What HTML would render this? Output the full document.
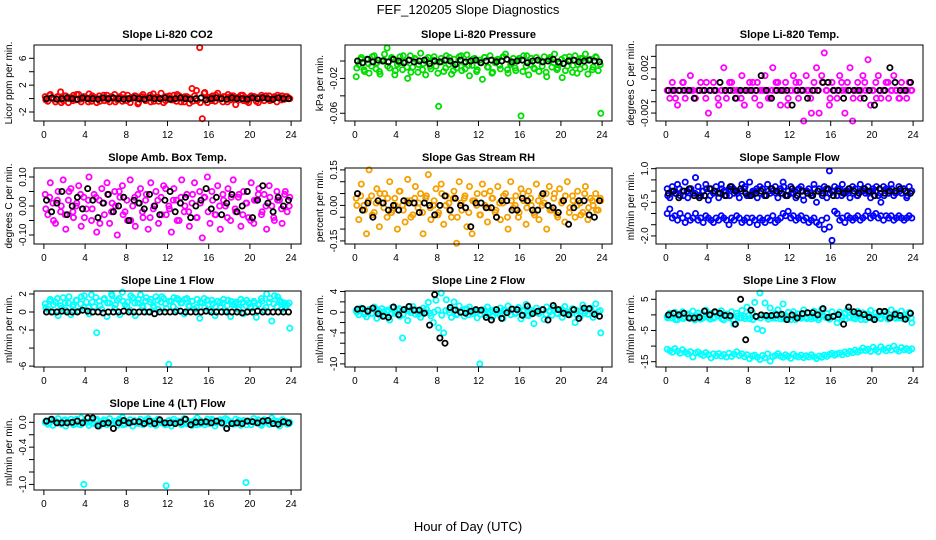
<!DOCTYPE html>
<html><head><meta charset="utf-8"><style>
html,body{margin:0;padding:0;background:#fff;}
svg{display:block;font-family:"Liberation Sans",sans-serif;}
</style></head><body>
<svg id="chart" width="936" height="540" viewBox="0 0 936 540">
<text x="468" y="14" text-anchor="middle" font-size="13">FEF_120205  Slope Diagnostics</text>
<text x="468" y="531" text-anchor="middle" font-size="13">Hour of Day (UTC)</text>
</svg>
<script>
// ---- data ----
const xTicks = [0,4,8,12,16,20,24];
const co2Red = [0.3,-0.4,0.6,0.1,-0.5,0.2,1.0,-0.3,0.4,-0.6,0.2,0.5,-0.2,0.6,-0.5,0.3,0.1,0.7,-0.4,0.2,-0.6,0.4,0.1,-0.3,0.5,-0.5,0.2,0.6,-0.2,0.3,-0.4,0.1,0.5,-0.6,0.2,0.4,-0.8,0.3,0.6,-0.3,0.1,-0.5,0.7,0.2,-0.4,0.8,-0.6,0.3,0.1,-0.2,0.5,-0.4,0.4,0.2,-0.5,0.3,-0.7,1.5,0.4,-0.3,7.6,-3.0,0.9,-0.6,0.2,0.4,-0.4,0.8,0.1,-0.5,0.3,0.6,-0.2,0.4,-0.9,0.2,0.5,-0.3,0.1,-0.6,0.4,0.3,-0.4,0.2,0.5,-0.3,0.1,0.4,-0.2,0.3,-0.5,0.2,0.4,-0.1,0.3,0.0];
const co2Red2 = [-0.2,0.5,-0.1,0.3,-0.6,0.4,0.0,-0.3,0.6,-0.1,0.2,-0.5,0.4,0.1,-0.4,0.5,-0.2,0.3,-0.5,0.2,0.6,-0.3,0.0,0.4,-0.6,0.3,-0.1,0.5,-0.4,0.2,0.0,-0.3,0.4,-0.2,0.6,-0.5,0.3,0.1,-0.4,1.2,-0.6,0.8,0.2,-0.3,0.5,-0.1,0.3,-0.5,0.4,0.0,-0.2,0.5,-0.4,0.1,0.3,-0.6,0.2,0.4,-0.3,0.1,0.5,-0.2,0.3,0.0];
const co2Black = [0,0.1,-0.1,0,0.1,0,-0.1,0.1,0,0,-0.1,0.1,0,0.1,0,-0.1,0,0.1,0,-0.1,0.1,0,0,0.1,-0.1,0,0.1,0,-0.1,0,0.1,-0.2,0,0.1,0,-0.1,0.1,0,0,-0.1,0.1,0,0.1,0,-0.1,0.1,0,0];
const presGreen = [-0.018,-0.004,0.004,-0.010,0.002,-0.014,-0.006,0.006,-0.002,-0.012,0.000,0.008,0.015,-0.008,0.003,-0.016,-0.004,0.005,-0.010,-0.001,-0.020,0.006,-0.007,0.002,-0.013,0.009,-0.003,-0.016,0.004,-0.009,0.001,-0.006,-0.052,0.003,-0.012,0.006,-0.004,-0.015,0.002,-0.008,0.005,-0.011,-0.002,0.007,-0.017,-0.005,0.003,-0.010,0.001,-0.021,0.004,-0.007,0.006,-0.013,-0.002,0.002,-0.009,0.005,0.008,-0.014,-0.004,0.003,-0.011,0.001,-0.063,0.006,-0.006,-0.016,0.003,-0.008,0.004,-0.012,-0.001,0.005,-0.018,0.002,-0.007,0.008,-0.010,-0.003,-0.019,0.004,-0.006,0.001,-0.013,0.006,-0.004,-0.009,0.003,0.008,-0.015,0.002,-0.007,0.005,-0.011,-0.060];
const presGreen2 = [-0.008,0.002,-0.012,-0.003,0.005,-0.009,-0.015,0.001,-0.006,0.004,-0.011,-0.002,0.006,-0.007,-0.013,0.003,-0.004,-0.010,0.002,-0.006,0.005,-0.014,-0.001,-0.008,0.004,-0.011,-0.003,0.006,-0.009,-0.005,0.002,-0.012,-0.002,0.004,-0.007,-0.014,0.001,-0.005,0.005,-0.010,-0.002,-0.008,0.003,-0.012,0.006,-0.004,-0.009,0.001,-0.006,-0.013,0.004,-0.002,-0.008,0.002,-0.011,0.005,-0.005,-0.014,0.003,-0.007,0.001,-0.010,0.004,-0.004];
const presBlack = [0.000,-0.002,0.002,-0.001,0.001,0.000,-0.001,0.002,0.000,-0.002,0.001,-0.001,0.000,0.001,-0.003,0.000,-0.001,0.001,0.000,-0.004,0.001,-0.001,0.000,0.001,-0.002,0.000,0.001,-0.001,0.000,0.002,-0.001,0.000,0.001,-0.002,0.000,0.001,-0.001,0.000,0.002,-0.001,-0.003,0.000,0.001,-0.001,0.000,0.001,0.000,-0.001];
const tempMag = [0,-0.0007,0.0007,0,-0.0013,0,0.0007,-0.0007,0,0.0013,0,-0.0007,0,0.0007,0,-0.0007,-0.0020,0,0.0007,0,-0.0013,0,0.0020,-0.0007,0,0.0007,0,-0.0007,0,0.0013,-0.0013,0,0.0007,0,-0.0007,0.0007,-0.0013,0,0.0013,0,-0.0007,0.0020,0,0.0007,-0.0013,0,0.0007,-0.0007,0,0.0013,0.0007,-0.0007,0,-0.0027,0.0013,0,-0.0020,0.0007,0.0020,-0.0020,0.0013,0.0033,0,-0.0013,0.0007,0,-0.0007,0.0013,0,-0.0020,0.0007,0.0020,-0.0027,0,0.0007,-0.0007,0.0013,0,0.0027,-0.0013,0,0.0007,0.0013,-0.0007,0,0.0007,-0.0007,0,0.0013,0,-0.0007,0.0007,0,-0.0007,0.0007,0];
const tempMag2 = [0,0,-0.0007,0,0.0007,0,0,-0.0007,0,0,0.0007,0,0,-0.0007,0,0,0.0007,0,0,-0.0007,0,0,0.0007,0,0,0,-0.0007,0,0.0007,0,0,-0.0013,0,0,0.0007,0,0,-0.0007,0,0,0.0007,0,-0.0007,0,0,0.0007,0,0,-0.0007,0,0,0.0007,0,0,-0.0007,0,0,0.0007,0,0,-0.0007,0,0,0];
const tempBlack = [0,0,0,0,0,-0.0007,0,0,0,0,0.0007,0,0,-0.0007,0,0,0,0,0.0013,0,-0.0007,0,0,0,-0.0013,0,0,-0.0007,0,0,0.0007,0.0007,0,0,-0.0007,0,0,0,-0.0007,0,-0.0013,0,0,0.0020,0.0007,0,0,0.0007];
const ambMag = [0.04,-0.03,0.08,0.01,-0.06,0.05,-0.02,0.09,-0.08,0.02,0.06,-0.04,0.00,0.07,-0.07,0.03,-0.01,0.10,-0.05,0.04,-0.09,0.02,0.06,-0.03,0.08,-0.06,0.01,0.05,-0.10,0.03,0.07,-0.02,-0.05,0.09,0.00,-0.07,0.04,0.06,-0.04,0.02,-0.08,0.08,-0.01,0.05,-0.06,0.03,0.07,-0.03,0.00,-0.09,0.06,0.02,-0.05,0.09,-0.02,0.04,-0.07,0.01,0.08,-0.04,0.05,-0.11,0.03,0.10,-0.06,0.02,-0.03,0.07,-0.08,0.04,0.00,0.06,-0.05,0.09,-0.02,0.03,-0.07,0.05,0.01,-0.04,0.08,-0.06,0.02,0.06,-0.03,0.04,-0.08,0.07,0.00,-0.05,0.05,0.02,-0.06,0.04,-0.02,0.03];
const ambMag2 = [-0.01,0.03,-0.05,0.02,0.00,-0.03,0.05,-0.02,0.01,0.04,-0.04,0.02,-0.01,0.03,-0.06,0.01,0.04,-0.02,0.00,0.05,-0.03,0.02,-0.05,0.03,0.01,-0.02,0.04,-0.04,0.00,0.02,-0.03,0.06,-0.01,0.02,-0.05,0.03,0.00,-0.02,0.04,-0.04,0.01,0.03,-0.02,0.05,-0.03,0.00,0.02,-0.04,0.03,-0.01,0.04,-0.03,0.01,-0.05,0.02,0.04,-0.02,0.00,0.03,-0.04,0.02,-0.01,0.05,0.00];
const ambBlack = [0.02,-0.02,0.01,0.05,-0.03,0.00,0.03,-0.01,0.06,0.02,-0.04,0.01,0.04,-0.02,0.00,0.03,-0.05,0.02,0.01,-0.01,0.04,0.00,-0.03,0.02,0.05,-0.02,0.01,0.03,-0.04,0.00,0.02,0.06,-0.01,0.03,-0.03,0.01,0.04,-0.02,0.00,0.05,-0.04,0.02,0.07,0.01,-0.02,0.03,0.00,0.02];
const rhOrange = [0.03,-0.06,0.09,0.00,-0.12,0.15,0.04,-0.03,0.07,-0.09,0.01,0.05,-0.05,0.10,-0.02,0.03,-0.10,0.06,0.00,-0.07,0.11,0.02,-0.04,0.08,-0.01,0.05,-0.12,0.03,0.13,-0.06,0.00,0.07,-0.03,0.09,-0.08,0.04,0.01,-0.05,0.06,-0.16,0.10,-0.02,0.03,-0.09,0.08,-0.12,0.02,0.05,-0.04,0.09,0.00,-0.07,0.06,0.03,-0.03,0.08,-0.06,0.01,0.05,-0.10,0.10,-0.01,0.04,-0.05,0.07,0.02,-0.08,0.06,0.00,-0.03,0.09,-0.06,0.04,0.01,-0.10,0.08,-0.02,0.05,-0.04,0.07,0.02,-0.07,0.10,-0.01,0.04,-0.05,0.06,0.01,-0.03,0.08,-0.06,0.03,0.00,0.05,-0.02,0.02];
const rhOrange2 = [0.00,0.04,-0.02,0.02,-0.04,0.01,0.05,-0.01,0.03,-0.03,0.00,0.06,-0.02,0.02,-0.05,0.03,0.01,-0.03,0.04,-0.01,0.02,-0.04,0.05,0.00,-0.02,0.03,-0.05,0.01,0.04,-0.03,0.02,0.00,-0.04,0.05,-0.01,0.03,-0.02,0.01,0.04,-0.05,0.02,0.00,-0.03,0.05,-0.01,0.03,-0.04,0.02,0.00,0.05,-0.02,0.03,-0.05,0.01,0.04,-0.03,0.02,0.00,-0.04,0.05,-0.01,0.02,-0.02,0.03];
const rhBlack = [0.05,-0.02,0.01,-0.05,0.02,0.01,-0.02,0.00,-0.02,0.02,0.01,0.01,-0.03,0.01,0.00,-0.04,0.00,0.04,-0.02,0.03,0.00,-0.01,-0.09,0.01,0.01,-0.01,-0.01,-0.05,0.02,0.02,-0.02,-0.02,0.03,0.02,-0.02,-0.02,0.05,0.00,-0.01,-0.03,0.02,-0.08,-0.01,0.02,0.02,-0.04,-0.05,0.02];
const flowUpper = [0.1,-0.3,0.2,-0.1,0.3,-0.2,0.0,0.4,-0.3,0.1,-0.1,0.6,0.2,-0.2,0.0,0.3,-0.4,0.1,-0.1,0.2,-0.3,0.3,0.0,-0.2,0.1,0.2,-0.1,0.0,-0.3,0.3,0.1,-0.2,0.4,-0.1,0.0,-0.3,0.2,0.1,-0.2,0.3,-0.1,0.0,0.2,-0.3,0.1,0.4,-0.2,0.0,0.2,-0.1,-0.3,0.1,0.2,-0.4,0.0,0.1,-0.2,0.3,-0.5,0.1,-0.1,0.2,-0.3,0.9,0.0,0.2,-0.2,0.1,0.3,-0.1,0.0,-0.3,0.2,0.1,-0.2,0.3,0.0,-0.1,0.2,-0.3,0.1,0.0,-0.2,-0.5,0.2,0.1,-0.1,0.3,-0.2,0.0,0.2,-0.1,0.1,-0.3,0.2,0.0];
const flowUpper2 = [-0.2,0.0,-0.1,0.1,-0.2,0.0,0.1,-0.1,-0.2,0.0,0.1,-0.2,0.0,-0.1,0.1,0.0,-0.2,0.1,-0.1,0.0,0.2,-0.2,0.0,0.1,-0.1,-0.2,0.0,0.1,-0.1,0.0,0.2,-0.2,-0.1,0.0,0.1,-0.2,0.0,-0.1,0.1,0.0,-0.2,0.1,-0.1,0.0,0.1,-0.2,0.0,0.1,-0.1,-0.2,0.0,0.1,-0.1,0.0,0.2,-0.1,-0.2,0.0,0.1,-0.1,0.0,0.1,-0.2,0.0];
const flowLower = [-1.0,-0.8,-1.2,-1.1,-1.3,-1.0,-1.2,-1.4,-1.1,-1.3,-1.2,-1.0,-1.3,-1.2,-1.4,-1.1,-1.2,-1.3,-1.4,-1.2,-1.3,-1.1,-1.2,-1.3,-1.5,-1.2,-1.3,-1.1,-1.2,-1.4,-1.3,-1.2,-1.4,-1.2,-1.3,-1.5,-1.2,-1.3,-1.4,-1.2,-1.3,-1.1,-1.4,-1.3,-1.2,-1.0,-1.1,-0.9,-1.2,-1.1,-1.3,-1.2,-1.1,-1.3,-1.2,-1.4,-1.3,-1.2,-1.4,-1.5,-1.3,-1.7,-1.2,-1.6,-2.2,-0.9,-1.0,-1.3,-1.2,-1.4,-1.1,-1.2,-1.3,-1.2,-1.1,-1.3,-1.2,-1.1,-0.9,-1.2,-1.1,-1.0,-1.2,-1.1,-1.3,-1.1,-1.2,-1.1,-1.3,-1.2,-1.1,-1.2,-1.3,-1.2,-1.1,-1.2];
const flowBlack = [-0.1,0.0,-0.3,0.0,0.1,-0.2,-0.3,-0.2,0.1,0.0,-0.1,-0.2,0.2,0.0,0.1,-0.1,-0.2,-0.1,0.0,-0.2,0.1,0.0,-0.1,-0.2,0.1,-0.2,0.0,-0.1,-0.2,0.0,-0.1,0.1,-0.2,0.0,-0.1,0.1,0.0,-0.1,0.1,0.0,-0.2,0.1,-0.1,0.0,0.0,0.1,0.0,-0.1];
const line1Cyan = [0.9,0.3,1.4,0.0,1.1,-0.4,0.7,1.6,0.2,1.0,-0.3,0.8,1.3,0.1,1.7,0.5,1.1,-0.2,1.9,0.6,-2.3,1.2,0.3,1.5,-0.5,1.0,1.8,0.4,1.3,-0.3,2.2,0.8,1.1,0.2,1.6,-0.4,1.0,1.9,0.5,1.2,0.0,1.4,0.7,1.7,0.3,1.1,1.5,0.4,-5.8,1.2,1.6,0.2,1.3,1.0,-0.2,1.5,0.6,1.2,0.3,1.4,-0.7,1.0,0.5,1.3,0.2,0.9,-0.4,1.2,0.6,1.0,0.1,1.3,-0.5,0.8,1.1,0.3,1.4,-0.2,0.7,1.0,0.4,1.2,-0.6,0.9,1.5,0.2,2.0,1.1,-1.0,1.8,0.6,1.3,0.3,1.0,0.8,-1.8];
const line1Cyan2 = [0.5,1.2,0.8,1.5,0.4,1.0,1.7,0.6,1.3,0.9,1.8,0.5,1.1,1.6,0.7,1.4,1.0,2.0,0.8,1.5,1.2,0.6,1.8,1.0,1.4,0.7,1.6,1.1,0.5,1.3,1.7,0.9,1.2,0.6,1.5,1.0,1.4,0.7,1.2,0.5,1.1,1.5,0.8,1.3,0.6,1.0,1.4,0.7,1.2,0.9,0.5,1.1,1.3,0.6,1.0,0.8,1.2,0.5,1.5,0.9,1.7,1.1,0.6,1.0];
const line1Black = [0,0,0,0.1,0,0,0,0.2,0.1,0,0,-0.1,0,0,0,0.1,0,0,0,0,0,-0.2,0,0,0,0,0.1,0,0,0,0,0.1,0,0,0,0,0,0,-0.1,0,0,0.1,0,0,0,0,0,0];
const line2Cyan = [0.3,-0.5,0.8,0.0,-0.9,0.5,-0.3,1.0,-1.2,0.2,0.7,-0.6,0.1,-1.5,0.9,-0.2,0.4,-0.8,-5.0,0.6,-1.6,0.3,1.1,-0.4,0.2,-1.0,0.8,0.0,1.9,-0.7,-2.0,2.3,-3.0,3.7,-4.0,2.4,0.5,-1.0,2.0,-0.5,1.2,0.0,-0.8,0.6,1.0,-0.3,0.3,-1.1,-10.0,0.4,-0.6,1.0,0.0,-0.9,0.5,-0.2,0.8,-1.2,0.3,1.2,-0.5,0.6,-0.1,0.9,-1.3,0.4,1.5,-0.7,0.0,-2.2,0.8,-0.3,0.5,-1.4,1.0,0.2,-0.6,0.9,-0.2,0.4,-1.0,1.1,0.0,-0.5,0.7,-2.0,0.3,-0.8,1.4,0.2,-0.4,0.8,-1.0,1.6,0.1,-4.0];
const line2Cyan2 = [0.0,0.5,-0.4,0.2,-0.2,0.6,-0.6,0.1,0.4,-0.3,0.0,0.7,-0.5,0.3,-0.1,0.5,-0.4,0.2,0.6,-0.2,0.0,0.4,-0.6,0.3,-0.1,0.5,-0.3,0.1,0.6,-0.5,0.2,0.0,-0.4,0.5,-0.2,0.3,0.0,-0.5,0.4,-0.1,0.6,-0.3,0.1,0.2,-0.6,0.4,0.0,-0.2,0.5,-0.4,0.1,0.3,-0.3,0.6,-0.1,0.0,0.4,-0.5,0.2,-0.2,0.5,0.0,-0.3,0.3];
const line2Black = [0.6,0.7,0.2,0.8,-0.3,-0.8,-1.0,1.0,-0.5,0.5,1.1,0.4,0.4,-0.2,-2.5,3.4,-5.0,-6.0,0.9,0.4,0.0,-0.2,0.2,0.5,0.4,-1.0,-1.5,0.5,-1.2,-0.1,0.6,0.5,-0.6,1.2,-0.3,0.2,0.5,-1.5,1.3,0.5,-0.2,-0.5,0.5,-1.2,0.8,0.7,-0.4,-0.8];
const line3Upper = [-0.5,0.5,-1.0,0.8,-1.5,0.2,1.0,-0.8,0.3,-1.2,1.2,-0.3,0.6,-1.4,0.0,1.5,-0.9,0.4,-1.1,0.9,-0.4,1.3,-1.6,0.2,-0.7,1.0,-3.0,0.5,-1.0,1.4,-0.5,2.5,-1.2,0.7,4.0,-4.5,7.0,-5.0,3.8,-0.6,2.2,-1.0,0.5,1.6,-1.3,3.5,-0.2,0.8,-1.5,1.0,-0.4,0.3,-1.1,1.6,-0.7,0.6,-1.3,1.2,0.0,-0.9,1.8,-0.5,0.4,-1.4,1.0,-0.2,-2.5,0.9,-1.0,0.5,1.5,-0.8,0.2,-1.3,1.1,-0.4,0.7,-1.5,0.3,1.4,-0.9,0.6,-0.2,-1.2,1.0,0.1,-0.8,1.6,-0.3,0.5,-1.0,1.2,0.0,-0.6,0.8,-2.5];
const line3Upper2 = [-1.0,-0.2,-1.5,-0.6,-1.2,0.0,-0.9,-1.6,-0.4,-1.1,-0.3,-1.4,-0.8,-0.1,-1.3,-0.5,-1.0,-1.7,-0.4,-0.9,-1.2,-0.2,-1.5,-0.7,-1.0,-0.3,-1.4,-0.6,-1.1,-0.2,-1.3,-0.8,-0.4,-1.5,-0.9,-0.1,-1.2,-0.6,-1.0,-1.6,-0.3,-0.9,-1.3,-0.5,-1.1,-0.2,-1.4,-0.7,-1.0,-0.4,-1.5,-0.8,-0.2,-1.2,-0.6,-1.0,-0.3,-1.4,-0.7,-1.1,-0.4,-1.3,-0.8,-1.0];
const line3Lower = [-11.0,-11.5,-12.0,-10.8,-11.6,-12.3,-11.2,-12.0,-12.5,-11.8,-13.5,-12.2,-11.9,-12.6,-13.0,-12.1,-12.8,-13.8,-12.5,-13.1,-12.4,-13.2,-12.7,-13.5,-12.3,-13.3,-12.6,-11.8,-13.0,-12.5,-13.4,-12.8,-14.0,-13.2,-12.9,-13.6,-14.3,-13.0,-13.7,-12.5,-14.8,-13.4,-13.0,-12.4,-13.2,-13.6,-12.8,-13.3,-13.9,-12.6,-13.2,-13.5,-12.9,-13.7,-13.1,-13.5,-12.8,-13.4,-14.0,-13.2,-13.6,-12.9,-13.3,-12.7,-12.3,-12.9,-12.5,-12.2,-12.8,-11.9,-12.4,-11.7,-12.1,-11.3,-11.9,-11.5,-10.6,-11.4,-11.0,-11.7,-10.4,-11.2,-11.8,-10.2,-11.0,-11.5,-10.6,-11.3,-10.0,-11.1,-11.6,-10.5,-11.2,-10.8,-11.4,-10.9];
const line3Black = [0.0,0.5,0.0,0.5,-1.0,-1.0,-0.8,1.2,0.0,1.0,0.5,-0.2,-0.3,-3.0,5.0,-8.0,1.5,-0.5,0.0,-0.2,-0.2,0.0,0.2,-1.5,0.0,-1.0,0.4,0.7,0.7,0.0,2.0,-0.8,-0.5,0.1,-3.0,2.5,1.0,0.5,0.1,-0.8,-1.5,1.1,1.1,-1.0,0.2,-0.2,-1.4,0.5];
const line4Cyan = [0.00,-0.03,0.04,-0.05,0.02,0.06,-0.02,0.03,-0.06,0.01,0.05,-0.04,0.02,-0.03,0.07,-1.00,0.00,-0.05,0.04,-0.02,0.05,-0.06,0.01,0.03,-0.04,0.06,-0.01,0.02,-0.05,0.03,0.08,-0.03,0.00,0.04,-0.06,0.02,-0.02,0.05,-0.04,0.01,0.06,-0.03,0.02,-0.05,0.04,0.00,-0.02,-1.02,0.03,-0.06,0.05,-0.01,0.02,-0.04,0.06,-0.02,0.01,-0.05,0.03,0.07,-0.03,0.00,-0.04,0.05,-0.01,0.03,-0.06,0.02,0.04,-0.02,0.06,-0.04,0.01,-0.03,0.05,0.00,-0.05,0.03,-0.97,0.02,-0.04,0.06,-0.01,0.03,-0.05,0.04,0.00,-0.03,0.07,-0.02,0.02,-0.06,0.04,0.01,-0.03,0.00];
const line4Cyan2 = [0.02,-0.01,0.03,0.00,-0.03,0.04,0.01,-0.02,0.05,-0.04,0.02,0.00,-0.01,0.03,-0.03,0.04,0.01,-0.02,0.00,0.05,-0.04,0.02,-0.01,0.03,0.00,-0.03,0.04,-0.02,0.01,0.05,-0.01,-0.04,0.03,0.00,0.02,-0.03,0.04,-0.01,0.01,-0.04,0.03,0.00,-0.02,0.05,-0.01,0.02,-0.03,0.04,0.00,-0.02,0.03,0.01,-0.04,0.02,0.00,0.04,-0.02,0.01,-0.03,0.03,0.00,-0.01,0.02,-0.02];
const line4Black = [0.02,0.05,-0.01,-0.01,-0.01,0.00,0.02,-0.01,0.07,0.07,-0.06,-0.02,-0.01,-0.10,-0.01,0.03,-0.01,0.01,0.01,-0.02,0.02,-0.02,0.04,-0.01,-0.01,-0.02,0.00,0.05,-0.04,0.00,0.00,0.01,-0.01,0.02,-0.01,-0.10,-0.02,-0.01,-0.02,0.02,0.01,-0.01,0.02,0.03,-0.02,-0.03,0.01,-0.01];

// ---- layout config ----
const panels = [
 {name:'co2',title:'Slope Li-820 CO2',ylab:'Licor ppm per min.',dom:[-3.34,7.98],ticks:[-2,0,2,4,6],labels:['-2','','2','','6'],series:[[co2Red,'#ff0000'],[co2Red2,'#ff0000'],[co2Black,'#000']]},
 {name:'pressure',title:'Slope Li-820 Pressure',ylab:'kPa per min.',dom:[-0.0689,0.0184],ticks:[-0.06,-0.04,-0.02,0],labels:['-0.06','','-0.02',''],series:[[presGreen,'#00dd00'],[presGreen2,'#00dd00'],[presBlack,'#000']]},
 {name:'temp',title:'Slope Li-820 Temp.',ylab:'degrees C per min.',dom:[-0.0027,0.004],ticks:[-0.002,-0.001,0,0.001,0.002,0.003],labels:['-0.002','','','','0.002',''],series:[[tempMag,'#ff00ff'],[tempMag2,'#ff00ff'],[tempBlack,'#000']]},
 {name:'amb-box',title:'Slope Amb. Box Temp.',ylab:'degrees C per min.',dom:[-0.131,0.131],ticks:[-0.1,-0.05,0,0.05,0.1],labels:['-0.10','','0.00','','0.10'],series:[[ambMag,'#ff00ff'],[ambMag2,'#ff00ff'],[ambBlack,'#000']]},
 {name:'rh',title:'Slope Gas Stream RH',ylab:'percent per min.',dom:[-0.163,0.158],ticks:[-0.15,-0.1,-0.05,0,0.05,0.1,0.15],labels:['-0.15','','','0.00','','','0.15'],series:[[rhOrange,'#f5a000'],[rhOrange2,'#f5a000'],[rhBlack,'#000']]},
 {name:'sample-flow',title:'Slope Sample Flow',ylab:'ml/min per min.',dom:[-2.36,1.03],ticks:[-2,-1.5,-1,-0.5,0,0.5,1],labels:['-2.0','','','-0.5','','','1.0'],series:[[flowUpper,'#0000ff'],[flowUpper2,'#0000ff'],[flowLower,'#0000ff'],[flowBlack,'#000']]},
 {name:'line1',title:'Slope Line 1 Flow',ylab:'ml/min per min.',dom:[-6.1,2.33],ticks:[-6,-4,-2,0,2],labels:['-6','','-2','0','2'],series:[[line1Cyan,'#00ffff'],[line1Cyan2,'#00ffff'],[line1Black,'#000']]},
 {name:'line2',title:'Slope Line 2 Flow',ylab:'ml/min per min.',dom:[-10.6,4.1],ticks:[-10,-8,-6,-4,-2,0,2,4],labels:['-10','','','-4','','0','','4'],series:[[line2Cyan,'#00ffff'],[line2Cyan2,'#00ffff'],[line2Black,'#000']]},
 {name:'line3',title:'Slope Line 3 Flow',ylab:'ml/min per min.',dom:[-16.7,7.65],ticks:[-15,-10,-5,0,5],labels:['-15','','-5','','5'],series:[[line3Upper,'#00ffff'],[line3Upper2,'#00ffff'],[line3Lower,'#00ffff'],[line3Black,'#000']]},
 {name:'line4',title:'Slope Line 4 (LT) Flow',ylab:'ml/min per min.',dom:[-1.09,0.134],ticks:[-1,-0.8,-0.6,-0.4,-0.2,0],labels:['-1.0','','','-0.4','','0.0'],series:[[line4Cyan,'#00ffff'],[line4Cyan2,'#00ffff'],[line4Black,'#000']]}
];

const NS='http://www.w3.org/2000/svg';
const svg=document.getElementById('chart');
function mk(tag,attrs,parent){const e=document.createElementNS(NS,tag);for(const k in attrs)e.setAttribute(k,attrs[k]);parent.appendChild(e);return e;}

panels.forEach((p,i)=>{
  const col=i%3,row=Math.floor(i/3);
  const L=34+311*col,W=267,T=45+123*row,H=76;
  const g=mk('g',{},svg);
  
  
  const xs=v=>L+(v+0.96)/25.92*W;
  const ys=v=>T+H-(v-p.dom[0])/(p.dom[1]-p.dom[0])*H;
  const t=mk('text',{x:L+W/2,y:T-7,'text-anchor':'middle','font-size':'11','font-weight':'bold'},g);
  t.textContent=p.title;
  
  
  p.series.forEach(([arr,color],si)=>{
    const sg=mk('g',{fill:'none',stroke:color,'stroke-width':'1.8'},g);
    
    
    const n=arr.length;
    arr.forEach((v,k)=>{
      const x=(k+0.5)*24/n;
      const c=mk('circle',{cx:xs(x).toFixed(1),cy:ys(v).toFixed(1),r:'2.6'},sg);
      
      
    });
  });
  const box=mk('rect',{x:L,y:T,width:W,height:H,fill:'none',stroke:'#000','stroke-width':'1'},g);
  
  
  xTicks.forEach(v=>{
    const x=xs(v);
    mk('line',{x1:x,x2:x,y1:T+H,y2:T+H+5,stroke:'#000'},g);
    const tl=mk('text',{x:x,y:T+H+17,'text-anchor':'middle','font-size':'10'},g);
    tl.textContent=v;
    
    
  });
  p.ticks.forEach((v,k)=>{
    const y=ys(v);
    mk('line',{x1:L-5,x2:L,y1:y,y2:y,stroke:'#000'},g);
    if(p.labels[k]){
      const tl=mk('text',{x:L-8,y:y,'text-anchor':'middle','font-size':'10',transform:`rotate(-90 ${L-8} ${y})`},g);
      tl.textContent=p.labels[k];
      
      
    }
  });
  const yl=mk('text',{x:L-22,y:T+H/2,'text-anchor':'middle','font-size':'10',transform:`rotate(-90 ${L-22} ${T+H/2})`},g);
  yl.textContent=p.ylab;
  
  
});
</script>
</body></html>
